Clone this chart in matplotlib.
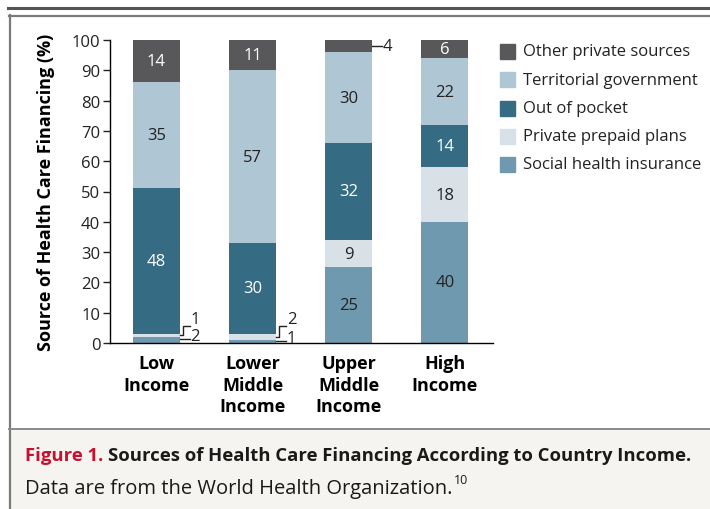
import matplotlib
matplotlib.use("Agg")
import matplotlib.pyplot as plt
from matplotlib.patches import Rectangle
from matplotlib.lines import Line2D

plt.rcParams['font.family'] = ['Open Sans', 'DejaVu Sans']

categories = ["Low\nIncome", "Lower\nMiddle\nIncome", "Upper\nMiddle\nIncome", "High\nIncome"]
# stacked from the bottom up
series = ["Social health insurance", "Private prepaid plans", "Out of pocket",
          "Territorial government", "Other private sources"]
social = [2, 1, 25, 40]
prepaid = [1, 2, 9, 18]
out_of_pocket = [48, 30, 32, 14]
territorial = [35, 57, 30, 22]
other = [14, 11, 4, 6]
values = [social, prepaid, out_of_pocket, territorial, other]

colors = ["#6f99ae", "#d8e1e8", "#356c84", "#afc6d4", "#58585a"]
text_colors = ["#222222", "#222222", "white", "#222222", "white"]

W, H = 710, 510


def px(x, y):
    return x / W, 1 - y / H


fig = plt.figure(figsize=(7.1, 5.1), dpi=100)

# frame and caption box
fig.add_artist(Rectangle(px(9, 510), (W - 9) / W, (510 - 430) / H,
                         transform=fig.transFigure, color="#f6f4f0", zorder=0))
fig.add_artist(Line2D([8 / W, 1], [1 - 9 / H] * 2, color="#555555", lw=2.2))
fig.add_artist(Line2D([9 / W, 1], [1 - 16.5 / H] * 2, color="#7a7a7a", lw=1.6))
fig.add_artist(Line2D([9.5 / W] * 2, [0, 1 - 16 / H], color="#7a7a7a", lw=1.6))
fig.add_artist(Line2D([9 / W, 1], [1 - 430 / H] * 2, color="#8a8a8a", lw=1.4))

ax = fig.add_axes([110 / W, 1 - 344 / H, (493 - 110) / W, (344 - 41) / H])
x = range(len(categories))
width = 0.49
bottom = [0] * len(categories)
for s, vals in enumerate(values):
    ax.bar(x, vals, width, bottom=bottom, color=colors[s], edgecolor="none", zorder=2)
    for i, v in enumerate(vals):
        lo = bottom[i]
        hi = min(lo + v, 100)
        mid = (lo + hi) / 2
        edge = i + width / 2
        if v >= 5:
            ax.text(i, mid, str(v), ha="center", va="center", fontsize=12,
                    color=text_colors[s])
        elif s == 1:
            # elbow leader going up
            ax.plot([edge, edge + 0.03, edge + 0.03, edge + 0.10],
                    [mid, mid, 5.7, 5.7], color="#222222", lw=1, clip_on=False)
            ax.text(edge + 0.11, 7.9, str(v), ha="left", va="center", fontsize=12,
                    color="#222222")
        else:
            ly = mid if s != 0 else mid + 0.3
            ax.plot([edge, edge + 0.10], [ly, ly], color="#222222", lw=1, clip_on=False)
            ty = ly + 0.9 if s == 0 else ly
            ax.text(edge + 0.11, ty, str(v), ha="left", va="center", fontsize=12,
                    color="#222222")
    bottom = [b + v for b, v in zip(bottom, vals)]

ax.set_xlim(-0.483, 3.5)
ax.set_ylim(0, 100)
ax.set_yticks(range(0, 101, 10))
ax.set_xticks(list(x))
ax.set_xticklabels(categories, fontweight="bold", fontsize=13, linespacing=1.25)
ax.tick_params(axis="x", length=0, pad=8)
ax.tick_params(axis="y", length=5, width=1, labelsize=12, pad=2, colors="#222222")
for side in ["top", "right"]:
    ax.spines[side].set_visible(False)
ax.spines["left"].set_linewidth(1)
ax.spines["bottom"].set_linewidth(1)
ax.set_ylabel("Source of Health Care Financing (%)", fontweight="bold", fontsize=13,
              labelpad=12)

# legend, top to bottom
for k, s in enumerate(reversed(range(len(series)))):
    cy = 52.5 + k * 28.25
    fig.add_artist(Rectangle(px(500, cy + 7.5), 15 / W, 15 / H,
                             transform=fig.transFigure, color=colors[s]))
    fig.text(*px(523, cy), series[s], ha="left", va="center", fontsize=12,
             color="#222222")

# caption
fig.canvas.draw()
r = fig.canvas.get_renderer()
t1 = fig.text(*px(25, 456), "Figure 1.", color="#c8102e", fontsize=13.3,
              fontweight="bold", va="center")
e = t1.get_window_extent(r)
fig.text(*px(e.x1 + 5, 456), "Sources of Health Care Financing According to Country Income.",
         color="#1a1a1a", fontsize=13.3, fontweight="bold", va="center")
t2 = fig.text(*px(25, 489), "Data are from the World Health Organization.",
              color="#1a1a1a", fontsize=14.5, va="center")
e2 = t2.get_window_extent(r)
fig.text(*px(e2.x1 + 1, 481), "10", color="#1a1a1a", fontsize=9, va="center")

fig.savefig("out.png", dpi=100)
